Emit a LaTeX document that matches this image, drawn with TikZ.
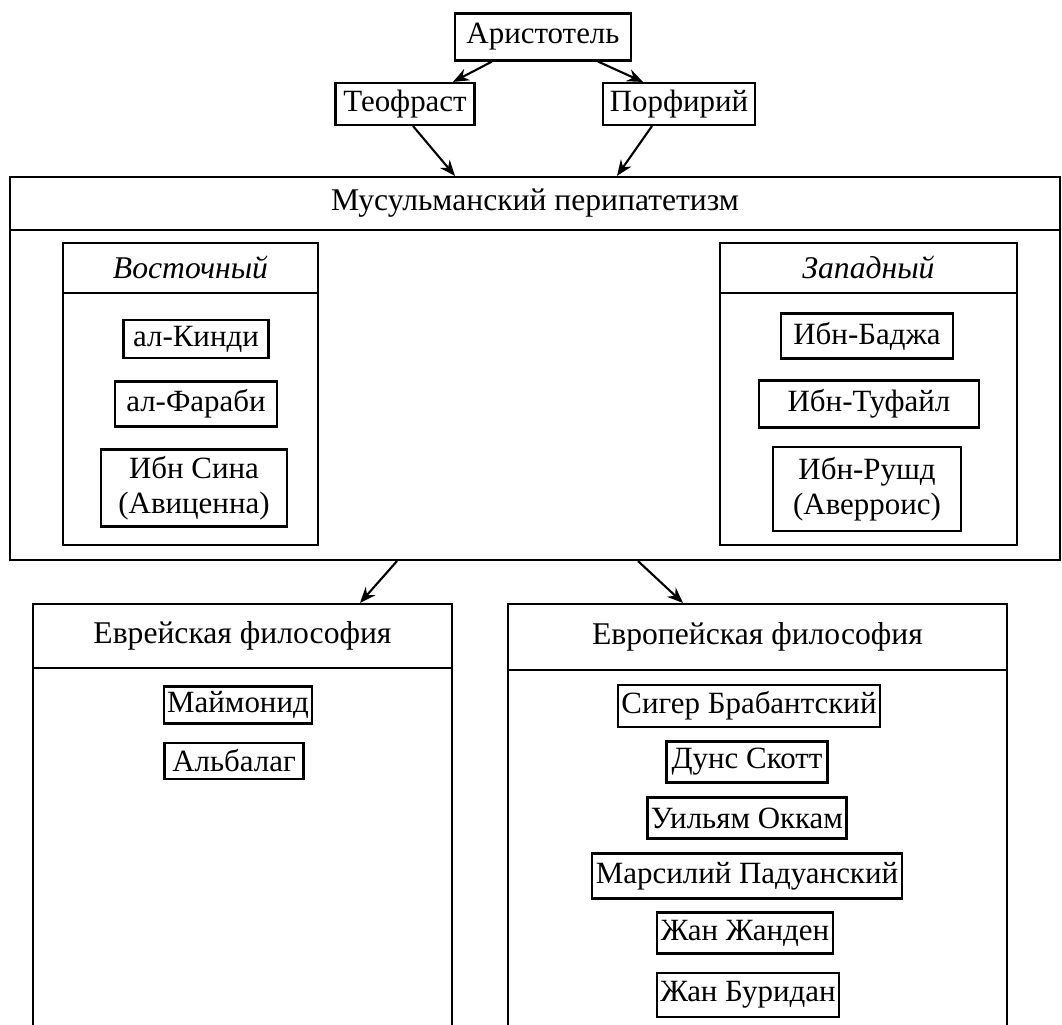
\documentclass[tikz,border=0pt]{standalone}
\usepackage{fontspec}
\setmainfont{Liberation Serif}
\usetikzlibrary{arrows.meta}

\begin{document}
\begin{tikzpicture}[
    person/.style={draw, semithick, inner sep=1pt, align=center, font=\fontsize{8.8}{10}\selectfont},
    group/.style={draw, semithick, inner sep=0pt},
    head/.style={inner sep=0pt, anchor=north, font=\fontsize{9}{11}\selectfont},
    arr/.style={-{Stealth[length=4.5pt,width=3.6pt]}, semithick}
]
\useasboundingbox (0,0) rectangle (10.62,-10.25);
\clip (0,0) rectangle (10.62,-10.25);

% sources
\node[person, minimum width=1.76cm, minimum height=0.47cm] (arist) at (5.43,-0.37) {Аристотель};
\node[person, minimum width=1.39cm, minimum height=0.42cm] (teo) at (4.05,-1.04) {Теофраст};
\node[person, minimum width=1.52cm, minimum height=0.42cm] (porf) at (6.79,-1.04) {Порфирий};

% muslim peripatetics
\node[group, minimum width=10.50cm, minimum height=3.83cm] (musl) at (5.35,-3.685) {};
\node[head, minimum width=10.50cm, minimum height=0.53cm] (mhead) at (musl.north) {Мусульманский перипатетизм};
\draw[semithick] (mhead.south west) -- (mhead.south east);

\node[group, minimum width=2.55cm, minimum height=3.02cm] (east) at (1.905,-3.94) {};
\node[head, minimum width=2.55cm, minimum height=0.50cm] (ehead) at (east.north) {\itshape Восточный};
\draw[semithick] (ehead.south west) -- (ehead.south east);
\node[person, minimum width=1.45cm, minimum height=0.38cm] (kindi) at (1.96,-3.39) {ал-Кинди};
\node[person, minimum width=1.62cm, minimum height=0.45cm] (farabi) at (1.96,-4.04) {ал-Фараби};
\node[person, minimum width=1.86cm, minimum height=0.77cm] (sina) at (1.94,-4.88) {Ибн Сина\\(Авиценна)};

\node[group, minimum width=2.97cm, minimum height=3.02cm] (west) at (8.685,-3.94) {};
\node[head, minimum width=2.97cm, minimum height=0.50cm] (whead) at (west.north) {\itshape Западный};
\draw[semithick] (whead.south west) -- (whead.south east);
\node[person, minimum width=1.72cm, minimum height=0.45cm] (badja) at (8.67,-3.36) {Ибн-Баджа};
\node[person, minimum width=2.20cm, minimum height=0.47cm] (tufail) at (8.69,-4.04) {Ибн-Туфайл};
\node[person, minimum width=1.88cm, minimum height=0.84cm] (rushd) at (8.67,-4.89) {Ибн-Рушд\\(Аверроис)};

% heirs
\node[group, minimum width=4.19cm, minimum height=4.56cm] (jew) at (2.425,-8.32) {};
\node[head, minimum width=4.19cm, minimum height=0.64cm] (jhead) at (jew.north) {Еврейская философия};
\draw[semithick] (jhead.south west) -- (jhead.south east);
\node[person, minimum width=1.45cm, minimum height=0.37cm] (maimon) at (2.38,-7.05) {Маймонид};
\node[person, minimum width=1.39cm, minimum height=0.36cm] (albalag) at (2.34,-7.61) {Альбалаг};

\node[group, minimum width=4.99cm, minimum height=4.56cm] (europe) at (7.575,-8.32) {};
\node[head, minimum width=4.99cm, minimum height=0.66cm] (euhead) at (europe.north) {Европейская философия};
\draw[semithick] (euhead.south west) -- (euhead.south east);
\node[person, minimum width=2.57cm, minimum height=0.42cm] (siger) at (7.49,-7.06) {Сигер Брабантский};
\node[person, minimum width=1.61cm, minimum height=0.41cm] (duns) at (7.47,-7.62) {Дунс Скотт};
\node[person, minimum width=1.97cm, minimum height=0.41cm] (ockham) at (7.47,-8.18) {Уильям Оккам};
\node[person, minimum width=3.00cm, minimum height=0.45cm] (marsil) at (7.47,-8.76) {Марсилий Падуанский};
\node[person, minimum width=1.75cm, minimum height=0.41cm] (jandun) at (7.45,-9.33) {Жан Жанден};
\node[person, minimum width=1.82cm, minimum height=0.44cm] (buridan) at (7.48,-9.95) {Жан Буридан};

% arrows
\draw[arr] ([xshift=-0.51cm]arist.south) -- ([xshift=0.48cm]teo.north);
\draw[arr] ([xshift=0.55cm]arist.south) -- ([xshift=-0.36cm]porf.north);
\draw[arr] ([xshift=0.08cm]teo.south) -- ([xshift=-0.80cm]musl.north);
\draw[arr] ([xshift=-0.27cm]porf.south) -- ([xshift=0.82cm]musl.north);
\draw[arr] ([xshift=-1.38cm]musl.south) -- ([xshift=1.175cm]jew.north);
\draw[arr] ([xshift=1.03cm]musl.south) -- ([xshift=-0.745cm]europe.north);
\end{tikzpicture}
\end{document}
